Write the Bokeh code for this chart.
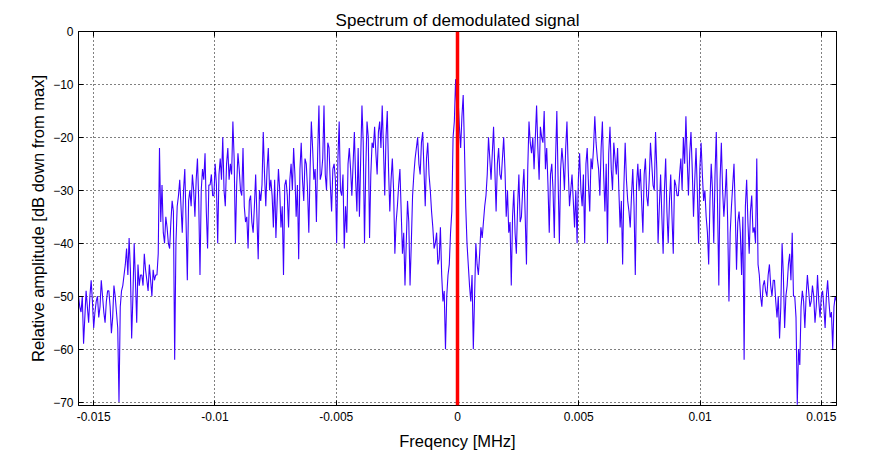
import numpy as np
from bokeh.plotting import figure
from bokeh.models import FixedTicker, LinearAxis, Range1d, Span
from bokeh.embed import file_html
from bokeh.resources import INLINE

# Relative amplitude (dB down from max), left to right.
# *_peak: the extremes of the trace; *_core: the level of the dense band between them.
seg_a_peak = [-50, -53, -59, -49, -55, -47, -56, -51, -54, -47, -53, -51, -49, -57, -48, -53,
              -70, -49, -46, -41, -39, -58, -40, -55, -48, -46, -42, -47, -44, -50, -47, -46,
              -22, -29, -40, -37, -41, -32, -62, -33, -28, -38, -26, -47, -30, -27, -35, -24,
              -46, -26, -23, -41, -29, -31, -25, -40, -24, -20, -33, -22]
seg_a_core = [-52, -50, -54, -52, -50, -51, -53, -50, -52, -50, -55, -49, -52, -54, -50, -56,
              -52, -48, -44, -46, -45, -50, -47, -44, -46, -48, -45, -49, -47, -45, -46, -42,
              -36, -38, -35, -40, -36, -34, -40, -31, -33, -30, -36, -32,
              -33, -30, -28, -32, -30, -28, -34, -29, -27, -31, -29, -27, -28, -30, -25, -28]
seg_b_peak = [-25, -17, -40, -23, -30, -22, -36, -41, -31, -38, -27, -43, -32, -19, -33, -22,
              -28, -37, -39, -26, -37, -46, -28, -37, -25, -22, -35, -43, -21, -32, -25, -38,
              -17, -28, -36, -14, -27, -14, -30, -22, -34, -25, -40, -17, -31, -41, -38, -22,
              -31, -19, -34, -35, -14, -40, -17, -39, -21, -18, -27, -17]
seg_b_core = [-27, -24, -29, -26, -31, -33, -35, -32, -36, -33, -35, -30, -29, -27, -26, -30,
              -31, -28, -32, -30, -33, -29, -31, -28, -30, -27, -29, -26, -28, -24, -30, -26,
              -22, -26, -23, -28, -24, -27, -21, -29, -26, -28, -24, -30, -27, -33, -25, -26,
              -25, -28, -22, -24, -21, -26, -20, -27, -22, -23, -19, -22]
seg_c_peak = [-14, -31, -15, -34, -24, -42, -33, -26, -42, -48, -32, -48, -31, -24, -20, -27,
              -19, -33, -21, -30, -37, -40, -44, -37, -51, -60, -46, -38, -20, -9, -13, -22,
              -12, -33, -44, -51, -60, -40, -46, -37, -36, -31, -20, -28, -18, -34, -22, -28,
              -20, -35, -38, -48, -30, -42, -27, -35, -26, -44, -17, -23]
seg_c_core = [-22, -20, -26, -28, -30, -36, -29, -34, -38, -40,
              -36, -40, -27, -22, -25, -21, -26, -24, -27, -34,
              -41, -38, -43, -46, -49, -50, -44, -34,
              -17, -15, -18, -16, -22,
              -40, -48, -46, -50, -44, -42, -39,
              -33, -27, -24, -23, -26, -25, -27, -24, -26, -30,
              -36, -35, -38, -33, -36, -30, -35, -26, -21, -20]
seg_d_peak = [-26, -14, -28, -20, -15, -22, -38, -25, -39, -15, -40, -22, -30, -17, -33, -27,
              -37, -40, -23, -33, -40, -22, -34, -26, -16, -24, -31, -17, -34, -40, -18, -30,
              -24, -22, -37, -44, -21, -32, -37, -26, -46, -25, -26, -38, -24, -33, -21, -29,
              -19, -40, -27, -42, -24, -40, -27, -42, -29, -31, -24, -20]
seg_d_core = [-20, -22, -18, -21, -26, -29, -27, -30, -24, -28, -26, -25, -22, -26, -30, -32,
              -30, -28, -30, -27, -25, -29, -24, -22, -21, -26, -22, -27, -25, -23, -26, -21,
              -27, -30, -32, -29, -28, -34, -31, -33, -29, -30, -32, -27, -31, -28, -25, -30,
              -26, -33, -35, -30, -34, -32, -35, -28, -31, -27, -30, -25]
seg_e_peak = [-16, -31, -19, -35, -22, -40, -21, -32, -35, -44, -25, -40, -19, -48, -21, -35,
              -26, -51, -33, -25, -45, -34, -46, -62, -28, -42, -31, -37, -24, -46, -52, -47,
              -50, -44, -50, -47, -54, -58, -40, -56, -48, -42, -38, -50, -70.5, -63, -49, -56,
              -46, -52, -48, -55, -46, -54, -49, -56, -47, -54, -60, -50]
seg_e_core = [-24, -23, -26, -28, -30, -26, -27, -30, -38, -32, -30, -27, -33, -28, -30, -31,
              -36, -38, -29, -34, -36, -38, -35, -33, -36, -34, -38, -40, -44, -50, -48, -49,
              -46, -48, -47, -51, -50, -52, -46, -50, -44, -47, -50, -54,
              -60, -52, -51, -50, -49, -51, -50, -52, -51, -50, -52, -50, -51, -53, -52, -51]

amplitude_db = []
for peaks, core in ((seg_a_peak, seg_a_core), (seg_b_peak, seg_b_core), (seg_c_peak, seg_c_core),
                    (seg_d_peak, seg_d_core), (seg_e_peak, seg_e_core)):
    for pk, cr in zip(peaks, core):
        amplitude_db.extend([pk, cr])

f_min, f_max = -0.015625, 0.015625  # MHz
freq_mhz = np.linspace(f_min, f_max, len(amplitude_db))

x_ticks = [-0.015, -0.01, -0.005, 0, 0.005, 0.01, 0.015]
x_tick_labels = ["-0.015", "-0.01", "-0.005", "0", "0.005", "0.01", "0.015"]
y_ticks = [0, -10, -20, -30, -40, -50, -60, -70]
carrier_mhz = 0.0

FONT = "Liberation Sans"

p = figure(width=884, height=453, output_backend="svg", toolbar_location=None,
           x_range=Range1d(f_min, f_max), y_range=Range1d(-70.65, 0),
           min_border_left=78, min_border_right=48, min_border_top=31, min_border_bottom=48,
           title="Spectrum of demodulated signal")
p.background_fill_color = "white"
p.border_fill_color = "white"
p.outline_line_color = "black"
p.outline_line_width = 1

p.title.align = "center"
p.title.text_font = FONT
p.title.text_font_size = "17px"
p.title.text_font_style = "normal"
p.title.text_color = "black"
p.title.standoff = 3

p.line(freq_mhz, amplitude_db, line_color="#3c00ff", line_width=1.1)
p.add_layout(Span(location=carrier_mhz, dimension="height", line_color="#ff0000", line_width=3.5))

for ax in (p.xaxis[0], p.yaxis[0]):
    ax.major_tick_in = 5
    ax.major_tick_out = 0
    ax.minor_tick_in = 0
    ax.minor_tick_out = 0
    ax.axis_line_color = "black"
    ax.major_tick_line_color = "black"
    ax.major_label_text_font = FONT
    ax.major_label_text_font_size = "12px"
    ax.major_label_text_color = "black"
    ax.axis_label_text_font = FONT
    ax.axis_label_text_font_size = "16.5px"
    ax.axis_label_text_font_style = "normal"
    ax.axis_label_text_color = "black"

p.xaxis[0].ticker = FixedTicker(ticks=x_ticks)
p.xaxis[0].major_label_overrides = {t: s for t, s in zip(x_ticks, x_tick_labels)}
p.xaxis[0].axis_label = "Freqency [MHz]"
p.xaxis[0].major_label_standoff = 6
p.xaxis[0].axis_label_standoff = 8
p.yaxis[0].ticker = FixedTicker(ticks=y_ticks)
p.yaxis[0].axis_label = "Relative amplitude [dB down from max]"
p.yaxis[0].major_label_standoff = 5
p.yaxis[0].axis_label_standoff = 3

# box ticks on right and top: drawn as minor ticks so that no labels are made
right = LinearAxis(ticker=FixedTicker(ticks=[], minor_ticks=y_ticks), major_tick_in=0,
                   major_tick_out=0, minor_tick_in=5, minor_tick_out=0,
                   minor_tick_line_color="black", axis_line_color="black")
top = LinearAxis(ticker=FixedTicker(ticks=[], minor_ticks=x_ticks), major_tick_in=0,
                 major_tick_out=0, minor_tick_in=5, minor_tick_out=0,
                 minor_tick_line_color="black", axis_line_color="black")
p.add_layout(right, "right")
p.add_layout(top, "above")

for g in (p.xgrid[0], p.ygrid[0]):
    g.grid_line_color = "black"
    g.grid_line_dash = "1 3"
    g.grid_line_width = 1
p.xgrid[0].ticker = FixedTicker(ticks=x_ticks)
p.ygrid[0].ticker = FixedTicker(ticks=y_ticks)

open("out.html", "w").write(file_html(p, INLINE))
